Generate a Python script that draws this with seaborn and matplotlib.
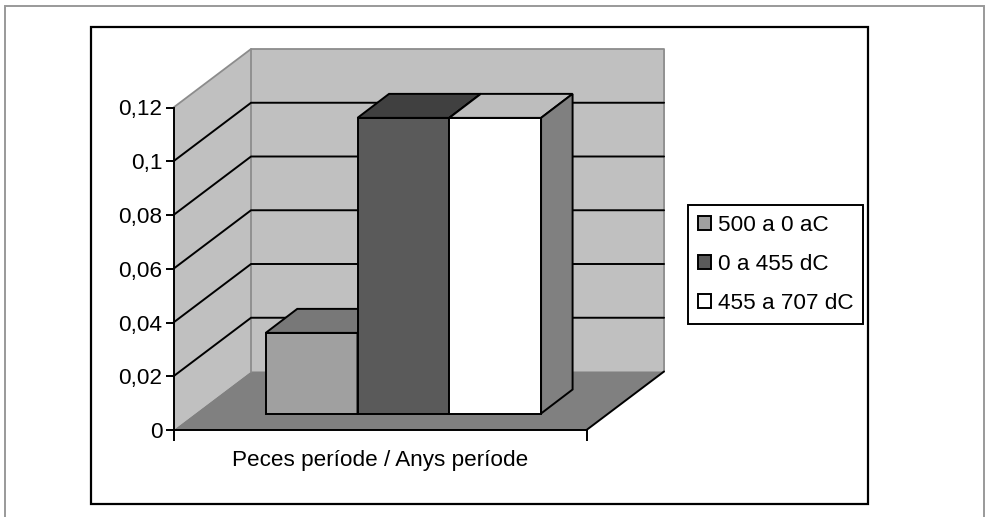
import pandas as pd
import matplotlib
matplotlib.use("Agg")
import matplotlib.pyplot as plt
from matplotlib.patches import Rectangle
import seaborn as sns

W, H = 985, 517

intervals = ["500 a 0 aC", "0 a 455 dC", "455 a 707 dC"]
values = [0.03, 0.11, 0.11]
y_ticks = [0, 0.02, 0.04, 0.06, 0.08, 0.1, 0.12]
y_labels = ["0", "0,02", "0,04", "0,06", "0,08", "0,1", "0,12"]
category = "Peces període / Anys període"

front_cols = ["#a0a0a0", "#5a5a5a", "#ffffff"]
top_cols = ["#787878", "#404040", "#bdbdbd"]
side_cols = ["#787878", "#404040", "#808080"]

sns.set_style("white")
plt.rcParams["font.family"] = ["Liberation Sans", "DejaVu Sans"]
FS = 16.2
LW = 1.4

df = pd.DataFrame({"periode": [category] * 3, "interval": intervals, "valor": values})

fig = plt.figure(figsize=(W / 100, H / 100), dpi=100)
ax = fig.add_axes([173.5 / W, (H - 430) / H, 413 / W, 322.5 / H])
ax.patch.set_visible(False)

sns.barplot(df, x="periode", y="valor", hue="interval", hue_order=intervals,
            palette=front_cols, saturation=1, gap=0, edgecolor="black",
            linewidth=LW, ax=ax, legend=True)
bars = [c[0] for c in ax.containers]

ax.set_ylim(0, 0.12)
ax.set_xlim(-0.668, 0.532)
x0, x1 = ax.get_xlim()
y1 = ax.get_ylim()[1]

# depth of the box and of the bars, in data units
dx, dy = 77.5 / 344, 58.5 / 2687.5
bar_dx, bar_dy = 31.5 / 344, 24 / 2687.5
lift = 16.5 / 2687.5

# walls and floor
ax.fill([x0 + dx, x1 + dx, x1 + dx, x0 + dx], [dy, dy, y1 + dy, y1 + dy],
        color="#c0c0c0", lw=0, clip_on=False, zorder=0.1)
ax.fill([x0, x0 + dx, x0 + dx, x0], [0, dy, y1 + dy, y1],
        color="#c0c0c0", lw=0, clip_on=False, zorder=0.1)
ax.fill([x0, x1, x1 + dx, x0 + dx], [0, 0, dy, dy],
        color="#808080", lw=0, clip_on=False, zorder=0.2)

ax.plot([x0, x0 + dx, x1 + dx, x1 + dx], [y1, y1 + dy, y1 + dy, dy],
        color="#8c8c8c", lw=1.3, clip_on=False, zorder=0.5)
ax.plot([x0 + dx, x0 + dx], [dy, y1 + dy], color="#8c8c8c", lw=1.3, clip_on=False, zorder=0.5)
ax.plot([x1, x1 + dx], [0, dy], color="black", lw=LW, clip_on=False, zorder=0.6)

for t in y_ticks[1:-1]:
    ax.plot([x0, x0 + dx, x1 + dx], [t, t + dy, t + dy], color="black", lw=LW,
            clip_on=False, zorder=1, solid_joinstyle="miter")

# bars with their top and side faces
for i, b in enumerate(bars):
    b.set_y(lift)
    b.set_zorder(3 + i)
    l, r = b.get_x(), b.get_x() + b.get_width()
    top = lift + b.get_height()
    ax.fill([l, r, r + bar_dx, l + bar_dx], [top, top, top + bar_dy, top + bar_dy],
            facecolor=top_cols[i], edgecolor="black", lw=LW, clip_on=False, zorder=3 + i)
    ax.fill([r, r + bar_dx, r + bar_dx, r], [lift, lift + bar_dy, top + bar_dy, top],
            facecolor=side_cols[i], edgecolor="black", lw=LW, clip_on=False, zorder=3 + i)

# axes
ax.set_yticks(y_ticks, y_labels, fontsize=FS, color="black")
ax.set_xticks([x0, x1], ["", ""])
ax.tick_params(axis="y", left=True, length=6, width=LW, color="black", pad=2)
ax.tick_params(axis="x", bottom=True, length=8, width=LW, color="black")
ax.set_ylabel("")
ax.set_xlabel(category, fontsize=FS, color="black", labelpad=3)
sns.despine(ax=ax, top=True, right=True)
for s in ["left", "bottom"]:
    ax.spines[s].set_color("black")
    ax.spines[s].set_linewidth(LW)
    ax.spines[s].set_zorder(2)

# legend
sns.move_legend(ax, "center", bbox_to_anchor=(775.7 / W, (H - 264.5) / H),
                bbox_transform=fig.transFigure, title=None, fontsize=FS,
                labelcolor="black",
                frameon=True, fancybox=False, framealpha=1, edgecolor="black",
                handlelength=0.58, handleheight=0.58, handletextpad=0.3,
                labelspacing=0.79, borderpad=0.45, borderaxespad=0)
ax.get_legend().get_frame().set_linewidth(LW)
ax.get_legend().set_zorder(10)

# frames round the chart
def frame(x, y, xx, yy, col, lw):
    fig.add_artist(Rectangle((x / W, (H - yy) / H), (xx - x) / W, (yy - y) / H, fill=False,
                             edgecolor=col, lw=lw, transform=fig.transFigure))

frame(5, 6, 984, H + 10, "#999999", 1.4)
frame(90.5, 27, 868, 504, "black", 1.6)

fig.savefig("out.png", dpi=100)
